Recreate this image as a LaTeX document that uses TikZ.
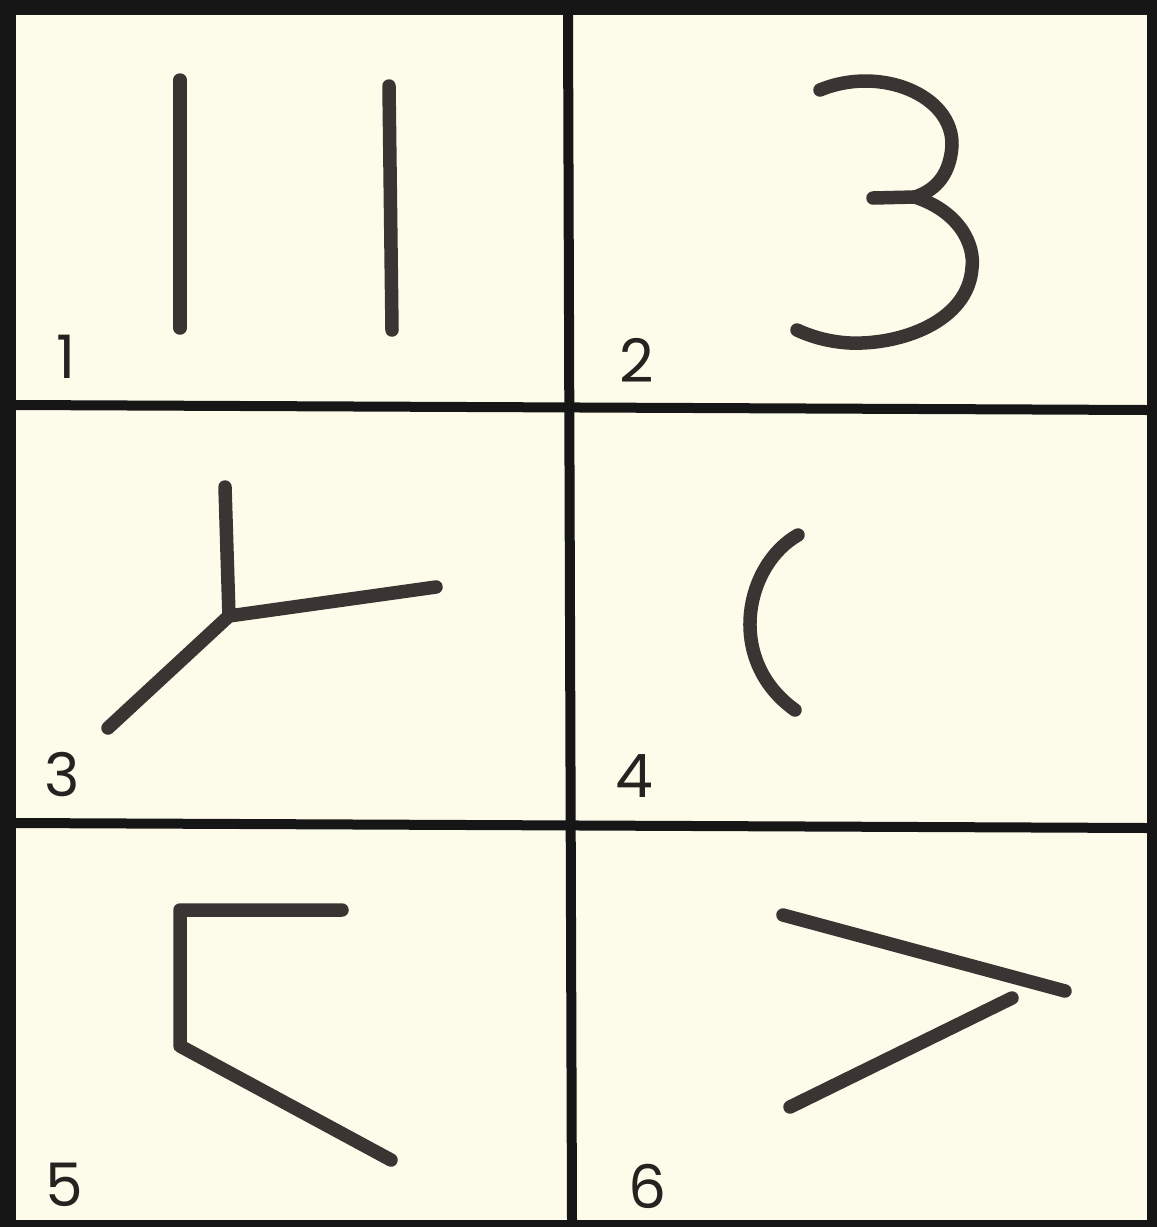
\documentclass[tikz,border=0pt]{standalone}
\usepackage{fontspec}
\setmainfont{Poppins}
\definecolor{paper}{HTML}{FDFBEA}
\definecolor{ink}{HTML}{3A3432}
\definecolor{frame}{HTML}{161616}
\definecolor{digit}{HTML}{262220}
\tikzset{
  figline/.style={draw=ink, line width=13.5pt, line cap=round, line join=round},
  gridline/.style={draw=frame, line width=10pt},
  numlabel/.style={inner sep=0pt, text=digit, font=\fontsize{60}{62}\selectfont},
}
\begin{document}
\begin{tikzpicture}[x=1pt,y=-1pt]
\useasboundingbox (0,0) rectangle (1157,1227);
\fill[frame] (0,0) rectangle (1157,1227);
\fill[paper] (16,15) rectangle (1147,1220);
% grid
\coordinate (hl1) at (16,405); \coordinate (hr1) at (1147,410);
\coordinate (hl2) at (16,823); \coordinate (hr2) at (1147,828);
\coordinate (vt) at (568,15); \coordinate (vb) at (572,1220);
\draw[gridline] (hl1) -- (hr1);
\draw[gridline] (hl2) -- (hr2);
\draw[gridline] (vt) -- (vb);
% panel 1
\coordinate (a1) at (180,80); \coordinate (a2) at (180,328);
\coordinate (b1) at (389,86); \coordinate (b2) at (392,330);
\draw[figline] (a1) -- (a2);
\draw[figline] (b1) -- (b2);
% panel 2
\coordinate (c1) at (820,90); \coordinate (cj) at (915,197);
\coordinate (ct) at (873,198); \coordinate (c2) at (797,330);
\draw[figline] (c1) .. controls (880,65) and (953,95) .. (952,145)
  .. controls (950,180) and (930,192) .. (cj);
\draw[figline] (ct) -- (cj);
\draw[figline] (cj) .. controls (960,212) and (975,245) .. (972,268)
  .. controls (968,322) and (900,345) .. (850,343)
  .. controls (830,342) and (812,337) .. (c2);
% panel 3
\coordinate (d0) at (229,616); \coordinate (d1) at (225,487);
\coordinate (d2) at (436,587); \coordinate (d3) at (108,728);
\draw[figline] (d1) -- (d0) -- (d2);
\draw[figline] (d0) -- (d3);
% panel 4
\coordinate (e1) at (798,535); \coordinate (e2) at (795,710);
\draw[figline] (e1) .. controls (745,565) and (725,660) .. (e2);
% panel 5
\coordinate (f1) at (342,910); \coordinate (f2) at (180,910);
\coordinate (f3) at (180,1046); \coordinate (f4) at (391,1160);
\draw[figline] (f1) -- (f2) -- (f3) -- (f4);
% panel 6
\coordinate (g1) at (783,915); \coordinate (g2) at (1065,991);
\coordinate (g3) at (1012,998); \coordinate (g4) at (790,1107);
\draw[figline] (g1) -- (g2);
\draw[figline] (g3) -- (g4);
% labels
\node[numlabel] (n1) at (66,357) {1};
\node[numlabel] (n2) at (637,360) {2};
\node[numlabel] (n3) at (62,775) {3};
\node[numlabel] (n4) at (634,776) {4};
\node[numlabel] (n5) at (64,1185) {5};
\node[numlabel] (n6) at (648,1186) {6};
\end{tikzpicture}
\end{document}
